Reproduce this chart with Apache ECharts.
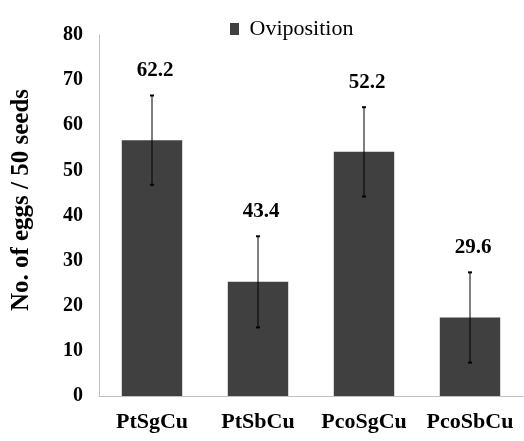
<!DOCTYPE html>
<html>
<head>
<meta charset="utf-8">
<script src="https://cdn.jsdelivr.net/npm/echarts@6/dist/echarts.min.js"></script>
<style>
html,body{margin:0;padding:0;background:#fff;}
#chart{width:524px;height:441px;}
</style>
</head>
<body>
<div id="chart"></div>
<script>
var categories = ['PtSgCu', 'PtSbCu', 'PcoSgCu', 'PcoSbCu'];
var meanValues = [56.7, 25.3, 54.1, 17.4];
var errorValues = [9.9, 10.1, 9.9, 10.0];
var annotationTexts = ['62.2', '43.4', '52.2', '29.6'];
var seriesName = 'Oviposition';
var yTitle = 'No. of eggs / 50 seeds';

var FONT = 'Liberation Serif';

var errData = categories.map(function (c, i) {
  return [i, meanValues[i], errorValues[i]];
});

var chart = echarts.init(document.getElementById('chart'), null, {renderer: 'canvas'});
chart.setOption({
  animation: false,
  backgroundColor: '#fff',
  textStyle: {fontFamily: FONT},
  grid: {left: 99, right: 1, top: 35, bottom: 45, containLabel: false},
  legend: {
    data: [seriesName],
    top: 13,
    left: 225,
    itemWidth: 9,
    itemHeight: 12,
    icon: 'rect',
    formatter: function (n) { return ' ' + n; },
    textStyle: {fontFamily: FONT, fontSize: 22, color: '#000'}
  },
  xAxis: {
    type: 'category',
    data: categories,
    axisLine: {lineStyle: {color: '#bfbfbf', width: 1}},
    axisTick: {show: false},
    axisLabel: {interval: 0, fontFamily: FONT, fontWeight: 'bold', fontSize: 22, color: '#000', margin: 15}
  },
  yAxis: {
    type: 'value',
    min: 0, max: 80, interval: 10,
    axisLine: {show: true, lineStyle: {color: '#bfbfbf', width: 1}},
    axisTick: {show: false},
    splitLine: {show: false},
    axisLabel: {fontFamily: FONT, fontWeight: 'bold', fontSize: 20, color: '#000', margin: 16}
  },
  graphic: [{
    type: 'text',
    x: 22, y: 200,
    rotation: Math.PI / 2,
    style: {
      text: yTitle,
      font: 'bold 25px "Liberation Serif"',
      fill: '#000',
      align: 'center',
      verticalAlign: 'middle'
    }
  }],
  series: [{
    name: seriesName,
    type: 'bar',
    data: meanValues,
    barWidth: '57%',
    itemStyle: {color: '#404040'}
  }, {
    type: 'custom',
    name: 'err',
    data: errData,
    z: 10,
    renderItem: function (params, api) {
      var i = api.value(0), m = api.value(1), e = api.value(2);
      var top = api.coord([i, m + e]);
      var bot = api.coord([i, m - e]);
      var cap = 2;
      var st = {stroke: '#000', lineWidth: 1};
      return {
        type: 'group',
        children: [
          {type: 'line', shape: {x1: top[0], y1: top[1], x2: bot[0], y2: bot[1]}, style: st},
          {type: 'line', shape: {x1: top[0] - cap, y1: top[1], x2: top[0] + cap, y2: top[1]}, style: {stroke: '#000', lineWidth: 2}},
          {type: 'line', shape: {x1: bot[0] - cap, y1: bot[1], x2: bot[0] + cap, y2: bot[1]}, style: {stroke: '#000', lineWidth: 2}},
          {type: 'text', x: top[0] + 3, y: top[1] - 25,
           style: {text: annotationTexts[params.dataIndex], font: 'bold 21px "Liberation Serif"', fill: '#000', align: 'center', verticalAlign: 'middle'}}
        ]
      };
    }
  }]
});
</script>
</body>
</html>
